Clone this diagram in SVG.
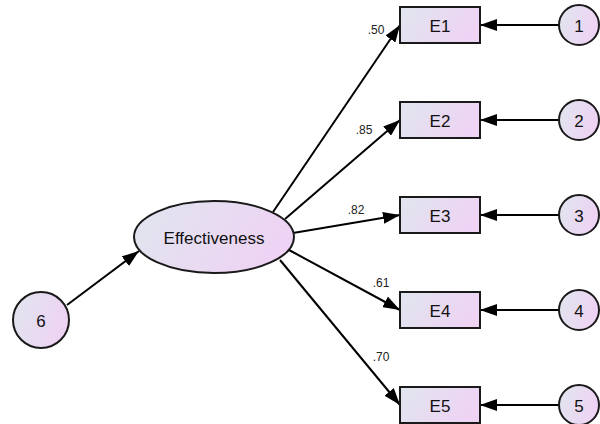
<svg xmlns="http://www.w3.org/2000/svg" width="600" height="424" viewBox="0 0 600 424">
  <defs>
    <linearGradient id="fill" x1="0" y1="0" x2="1" y2="0.3">
      <stop offset="0" stop-color="#e0e6ee"/>
      <stop offset="1" stop-color="#eed3f4"/>
    </linearGradient>
    <marker id="arrow" viewBox="0 0 17 12" refX="17" refY="6" markerWidth="17" markerHeight="12" markerUnits="userSpaceOnUse" orient="auto">
      <path d="M0,0 L17,6 L0,12 Z" fill="#000"/>
    </marker>
    <style>
      .shape { fill: url(#fill); stroke: #1a1a1a; stroke-width: 2; }
      .conn { stroke: #000; stroke-width: 2; fill: none; marker-end: url(#arrow); }
      .lbl { font-family: "Liberation Sans", Arial, sans-serif; font-size: 17px; fill: #111; text-anchor: middle; dominant-baseline: central; }
      .coef { font-family: "Liberation Sans", Arial, sans-serif; font-size: 12px; fill: #222; text-anchor: middle; }
    </style>
  </defs>

  <rect width="600" height="424" fill="#fff"/>

  <!-- connectors -->
  <g id="connectors">
    <line class="conn" x1="67" y1="305" x2="139" y2="251"/>
    <line class="conn" x1="273" y1="212" x2="400" y2="25"/>
    <line class="conn" x1="285" y1="219" x2="400" y2="120"/>
    <line class="conn" x1="293" y1="233" x2="400" y2="215"/>
    <line class="conn" x1="289" y1="250" x2="400" y2="310"/>
    <line class="conn" x1="280" y1="260" x2="400" y2="405"/>
    <line class="conn" x1="559" y1="25" x2="480" y2="25"/>
    <line class="conn" x1="559" y1="120" x2="480" y2="120"/>
    <line class="conn" x1="559" y1="215" x2="480" y2="215"/>
    <line class="conn" x1="559" y1="310" x2="480" y2="310"/>
    <line class="conn" x1="559" y1="405" x2="480" y2="405"/>
    <text class="coef" x="376" y="34">.50</text>
    <text class="coef" x="364" y="134">.85</text>
    <text class="coef" x="356" y="214">.82</text>
    <text class="coef" x="381" y="287">.61</text>
    <text class="coef" x="381" y="361">.70</text>
  </g>

  <!-- latent factor -->
  <g id="effectiveness">
    <ellipse class="shape" cx="214" cy="237" rx="80" ry="36"/>
    <text class="lbl" x="214" y="238">Effectiveness</text>
  </g>

  <g id="e6">
    <circle class="shape" cx="41" cy="320" r="28"/>
    <text class="lbl" x="41" y="321">6</text>
  </g>

  <!-- observed indicators -->
  <g id="E1">
    <rect class="shape" x="400" y="7" width="80" height="36"/>
    <text class="lbl" x="440" y="26">E1</text>
  </g>
  <g id="E2">
    <rect class="shape" x="400" y="102" width="80" height="36"/>
    <text class="lbl" x="440" y="121">E2</text>
  </g>
  <g id="E3">
    <rect class="shape" x="400" y="197" width="80" height="36"/>
    <text class="lbl" x="440" y="216">E3</text>
  </g>
  <g id="E4">
    <rect class="shape" x="400" y="292" width="80" height="36"/>
    <text class="lbl" x="440" y="311">E4</text>
  </g>
  <g id="E5">
    <rect class="shape" x="400" y="387" width="80" height="36"/>
    <text class="lbl" x="440" y="406">E5</text>
  </g>

  <!-- error terms -->
  <g id="e1">
    <circle class="shape" cx="579" cy="25" r="20"/>
    <text class="lbl" x="579" y="26">1</text>
  </g>
  <g id="e2">
    <circle class="shape" cx="579" cy="120" r="20"/>
    <text class="lbl" x="579" y="121">2</text>
  </g>
  <g id="e3">
    <circle class="shape" cx="579" cy="215" r="20"/>
    <text class="lbl" x="579" y="216">3</text>
  </g>
  <g id="e4">
    <circle class="shape" cx="579" cy="310" r="20"/>
    <text class="lbl" x="579" y="311">4</text>
  </g>
  <g id="e5">
    <circle class="shape" cx="579" cy="405" r="20"/>
    <text class="lbl" x="579" y="406">5</text>
  </g>
</svg>
